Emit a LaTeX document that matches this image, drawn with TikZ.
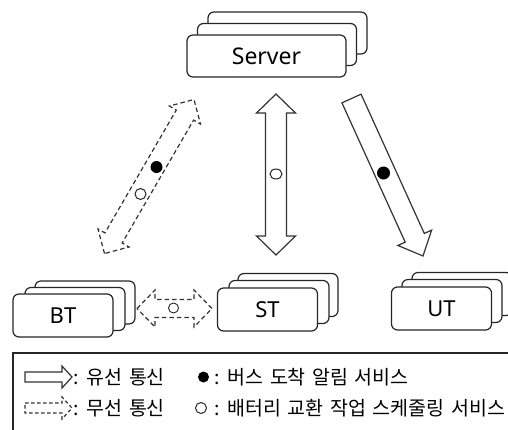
\documentclass[tikz,border=0pt]{standalone}
\usepackage{fontspec}
\setmainfont{Noto Sans}
\newfontfamily\kr[WordSpace=1.5]{Noto Sans CJK KR}
\usetikzlibrary{calc,shapes.geometric}
% #1 style, #2 tail coord, #3 tip coord, #4 shaft half width, #5 head half width, #6 head length
\newcommand\blkarrow[6]{%
  \coordinate (#2-p) at ($(#3)!#6!(#2)$);
  \draw[#1] ($(#2)!#4!90:(#3)$) -- ($(#2-p)!#4!90:(#3)$) -- ($(#2-p)!#5!90:(#3)$)
    -- (#3) -- ($(#2-p)!#5!-90:(#3)$) -- ($(#2-p)!#4!-90:(#3)$) -- ($(#2)!#4!-90:(#3)$) -- cycle;}
% #1 style, #2 tip A, #3 tip B, #4 shaft half width, #5 head half width, #6 head length
\newcommand\dblarrow[6]{%
  \coordinate (#2-q) at ($(#2)!#6!(#3)$);
  \coordinate (#3-q) at ($(#3)!#6!(#2)$);
  \draw[#1] (#2) -- ($(#2-q)!#5!90:(#3)$) -- ($(#2-q)!#4!90:(#3)$)
    -- ($(#3-q)!#4!-90:(#2)$) -- ($(#3-q)!#5!-90:(#2)$) -- (#3)
    -- ($(#3-q)!#5!90:(#2)$) -- ($(#3-q)!#4!90:(#2)$)
    -- ($(#2-q)!#4!-90:(#3)$) -- ($(#2-q)!#5!-90:(#3)$) -- cycle;}
\begin{document}
\begin{tikzpicture}[x=1pt,y=-1pt,
  card/.style={draw=black!85, line width=1.2pt, rounded corners=6pt, fill=white,
    minimum width=#1, minimum height=43pt, inner sep=0pt, font=\fontsize{22}{22}\selectfont},
  card/.default=100pt,
  wired/.style={draw=black!80, line width=1.2pt, fill=white, line join=miter},
  wireless/.style={draw=black!80, line width=1.2pt, fill=white, dash pattern=on 4.5pt off 3pt},
  dotf/.style={circle, fill=black, inner sep=0pt, minimum size=12pt},
  doto/.style={circle, draw=black!85, line width=1pt, fill=white, inner sep=0pt, minimum size=11pt},
  lgtext/.style={anchor=west, inner sep=0pt, font=\kr\fontsize{19.5}{19.5}\selectfont}]
\useasboundingbox (0,0) rectangle (508,429);

% Server stack
\node[card=159pt, minimum height=42pt] (server3) at (287.5,33) {};
\node[card=159pt, minimum height=42pt] (server2) at (277,44.5) {};
\node[card=159pt, minimum height=42pt, font=\fontsize{23}{23}\selectfont] (server) at (266.5,56) {Server};

% BT stack
\node[card] (bt3) at (85,302.5) {};
\node[card] (bt2) at (75,309) {};
\node[card] (bt) at (63,315.5) {BT};

% ST stack
\node[card] (st3) at (288,295) {};
\node[card] (st2) at (279,302) {};
\node[card] (st) at (267.5,309.5) {ST};

% UT stack
\node[card] (ut3) at (462,294) {};
\node[card] (ut2) at (452,301) {};
\node[card] (ut) at (441.5,308.5) {UT};

% arrow end points
\coordinate (stA) at (276,94);
\coordinate (stB) at (276,255);
\coordinate (btA) at (104.5,253.5);
\coordinate (btB) at (194,99.5);
\coordinate (utA) at (351.5,98.5);
\coordinate (utB) at (423,256);
\coordinate (bsA) at (137,308.5);
\coordinate (bsB) at (212,308.5);
\coordinate (lwA) at (25,377);
\coordinate (lwB) at (72,377);
\coordinate (llA) at (25,408);
\coordinate (llB) at (72,408);

% Server <-> ST (wired)
\dblarrow{wired}{stA}{stB}{10.5pt}{19.5pt}{19pt}
\node[draw=black!85, line width=1pt, fill=white, inner sep=0pt, ellipse,
  minimum width=12pt, minimum height=10pt] (stc) at (276,174) {};

% Server <-> BT (wireless)
\dblarrow{wireless}{btA}{btB}{10pt}{18pt}{18pt}
\node[dotf] (btd) at (156.5,167) {};
\node[doto] (btc) at (140.5,194) {};

% Server -> UT (wired)
\blkarrow{wired}{utA}{utB}{10.5pt}{18.5pt}{20pt}
\node[dotf, minimum size=13pt] (utd) at (383.5,173) {};

% BT <-> ST (wireless)
\dblarrow{wireless}{bsA}{bsB}{9pt}{18.5pt}{18pt}
\node[doto, minimum size=10pt, line width=0.9pt] (btstc) at (173.5,308) {};

% Legend
\draw[draw=black!85, line width=1.2pt] (13,353) rectangle (530,445);
\blkarrow{wired}{lwA}{lwB}{5pt}{11pt}{10pt}
\blkarrow{wireless, dash pattern=on 3.5pt off 2.5pt}{llA}{llB}{5pt}{11pt}{10pt}
\node[lgtext] (lt1) at (73,377) {: 유선 통신};
\node[lgtext] (lt2) at (73,408) {: 무선 통신};
\node[dotf, minimum size=11pt] (lgd) at (203.5,377) {};
\node[doto, minimum size=11pt] (lgc) at (201,408) {};
\node[lgtext] (lt3) at (214,377) {: 버스 도착 알림 서비스};
\node[lgtext] (lt4) at (214,408) {: 배터리 교환 작업 스케줄링 서비스};
\end{tikzpicture}
\end{document}
